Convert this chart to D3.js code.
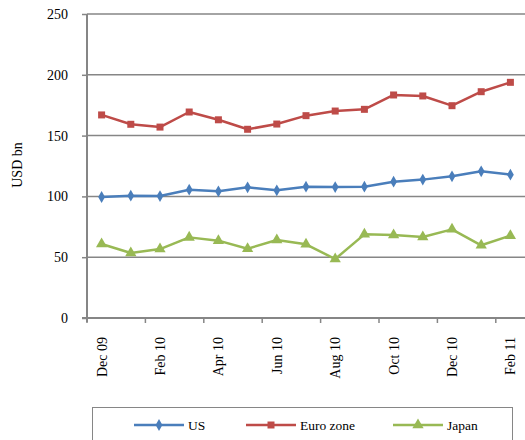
<!DOCTYPE html>
<html><head><meta charset="utf-8">
<script src="https://cdn.jsdelivr.net/npm/d3@7"></script>
<style>body{margin:0;background:#fff}svg{display:block}</style>
</head><body><div id="c"></div>
<script>
const categories = ["Dec 09","Jan 10","Feb 10","Mar 10","Apr 10","May 10","Jun 10","Jul 10","Aug 10","Sep 10","Oct 10","Nov 10","Dec 10","Jan 11","Feb 11"];
const us = [99.5,100.6,100.3,105.5,104.2,107.5,105,108,107.7,108,112.1,113.8,116.5,120.6,117.9];
const euro = [167,159.3,157,169.4,163,155.2,159.5,166.4,170.2,171.6,183.4,182.6,174.6,186.1,193.8];
const japan = [60.9,53.5,56.7,66.3,63.6,57,64.1,60.6,48.5,68.8,68.3,66.6,72.9,59.8,67.7];
const yTicks = [0,50,100,150,200,250];
const seriesNames = ["US","Euro zone","Japan"];

const FONT = "'Liberation Serif', 'Times New Roman', serif";
const W=525,H=440, L=87, R=525, T=14, B=318;
const svg=d3.select("#c").append("svg").attr("width",W).attr("height",H).attr("font-family",FONT);
const x=d3.scaleBand().domain(categories).range([L,R]).padding(0);
const y=d3.scaleLinear().domain([0,250]).range([B,T]);
const grey="#868686";

svg.append("g").selectAll("line").data(yTicks.filter(d=>d>0)).join("line")
 .attr("x1",L).attr("x2",R).attr("y1",d=>y(d)).attr("y2",d=>y(d))
 .attr("stroke",grey).attr("stroke-width",1.5);

const ya=svg.append("g").attr("transform",`translate(${L},0)`)
 .call(d3.axisLeft(y).tickValues(yTicks).tickSize(5).tickPadding(14));
ya.attr("font-family",FONT).attr("font-size",14);
ya.select(".domain").attr("stroke",grey).attr("stroke-width",2).attr("d",`M0,${T}V${B+4}`);
ya.selectAll(".tick line").attr("stroke",grey).attr("stroke-width",1.5);
ya.selectAll("text").attr("fill","#000");

const xa=svg.append("g").attr("transform",`translate(0,${B})`)
 .call(d3.axisBottom(x).tickValues(categories.filter((d,i)=>i%2===0)).tickSize(0).tickFormat(d=>d));
xa.attr("font-family",FONT).attr("font-size",14);
xa.select(".domain").attr("stroke",grey).attr("stroke-width",2).attr("d",`M${L-5},0H${R}`);
xa.selectAll(".tick line").remove();
xa.selectAll(".tick text").attr("transform","rotate(-90)").attr("text-anchor","end")
 .attr("x",-19).attr("y",0).attr("dy","0.35em").attr("fill","#000");
svg.append("g").selectAll("line").data(categories.filter((d,i)=>i%2===0)).join("line")
 .attr("x1",d=>x(d)).attr("x2",d=>x(d)).attr("y1",B).attr("y2",B+5)
 .attr("stroke",grey).attr("stroke-width",1.5);

svg.append("text").attr("transform","translate(22,165) rotate(-90)").attr("text-anchor","middle")
 .attr("font-size",14).text("USD bn");

const colors=["#4a7ebb","#be4b48","#98b954"];
const shapes=[d3.symbolDiamond,d3.symbolSquare,d3.symbolTriangle];
const sizes=[40,49,55];
const data=[us,euro,japan];
const line=d3.line().x((d,i)=>x(categories[i])+x.bandwidth()/2).y(d=>y(d));
data.forEach((s,k)=>{
  svg.append("path").datum(s).attr("d",line).attr("fill","none").attr("stroke",colors[k]).attr("stroke-width",2.5).attr("stroke-linejoin","round");
  svg.append("g").selectAll("path").data(s).join("path")
   .attr("transform",(d,i)=>`translate(${x(categories[i])+x.bandwidth()/2},${y(d)})`)
   .attr("d",d3.symbol().type(shapes[k]).size(sizes[k])).attr("fill",colors[k]);
});

svg.append("rect").attr("x",92.5).attr("y",407.5).attr("width",420).attr("height",40)
 .attr("fill","none").attr("stroke",grey).attr("stroke-width",1);
const lx=[134,246,393];
seriesNames.forEach((n,k)=>{
  const g=svg.append("g").attr("transform",`translate(${lx[k]},425)`);
  g.append("line").attr("x1",0).attr("x2",50).attr("stroke",colors[k]).attr("stroke-width",2.5);
  g.append("path").attr("transform","translate(25,0)").attr("d",d3.symbol().type(shapes[k]).size(sizes[k])).attr("fill",colors[k]);
  g.append("text").attr("x",54).attr("dy","0.35em").attr("font-size",13.5).text(n);
});
</script></body></html>
